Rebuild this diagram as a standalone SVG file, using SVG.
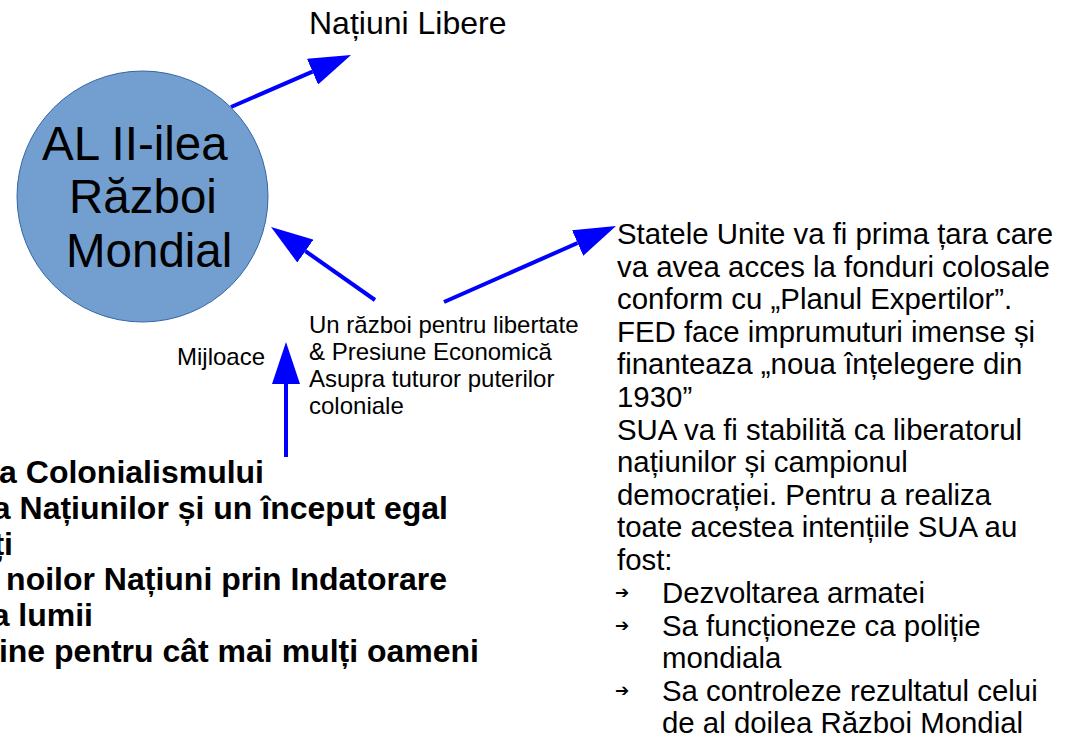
<svg xmlns="http://www.w3.org/2000/svg" width="1073" height="738" viewBox="0 0 1073 738">
<style>
text{font-family:"Liberation Sans",Arial,sans-serif;fill:#000}
.big{font-size:47.5px}
.title{font-size:32px}
.rt{font-size:29.4px}
.sm{font-size:24px}
.bd{font-size:32px;font-weight:bold}
.bul{font-family:"DejaVu Sans",sans-serif;font-size:17px;font-weight:bold}
.conn{stroke:#0000ff;stroke-width:4;fill:none;marker-end:url(#ah)}
</style>
<defs>
<marker id="ah" viewBox="0 0 42 28" refX="0" refY="14" markerWidth="42" markerHeight="28" markerUnits="userSpaceOnUse" orient="auto">
<path d="M0,0 L42,14 L0,28 Z" fill="#0000ff"/>
</marker>
</defs>
<rect width="1073" height="738" fill="#fff"/>
<g id="connectors">
<line class="conn" x1="231" y1="107" x2="312.5" y2="71.7"/>
<line class="conn" x1="375" y1="300" x2="305.4" y2="251.1"/>
<line class="conn" x1="444" y1="302" x2="577.6" y2="243"/>
<line class="conn" x1="286" y1="457" x2="286" y2="384"/>
</g>
<g id="node-razboi">
<circle cx="142.5" cy="196.5" r="125.5" fill="#729fcf" stroke="#3465a4" stroke-width="1"/>
<text class="big" x="42" y="160">AL II-ilea</text>
<text class="big" x="69" y="213">Război</text>
<text class="big" x="66" y="267">Mondial</text>
</g>
<g id="node-natiuni">
<text class="title" x="309" y="34">Națiuni Libere</text>
</g>
<g id="node-mijloace">
<text class="sm" x="177" y="365">Mijloace</text>
</g>
<g id="node-razboi-libertate">
<text class="sm" x="309" y="333">Un război pentru libertate</text>
<text class="sm" x="309" y="360">&amp; Presiune Economică</text>
<text class="sm" x="309" y="387">Asupra tuturor puterilor</text>
<text class="sm" x="309" y="414">coloniale</text>
</g>
<g id="node-sua">
<text class="rt" x="617" y="244">Statele Unite va fi prima țara care</text>
<text class="rt" x="617" y="276.6">va avea acces la fonduri colosale</text>
<text class="rt" x="617" y="309.2">conform cu „Planul Expertilor”.</text>
<text class="rt" x="617" y="341.8">FED face imprumuturi imense și</text>
<text class="rt" x="617" y="374.4">finanteaza „noua înțelegere din</text>
<text class="rt" x="617" y="407">1930”</text>
<text class="rt" x="617" y="439.6">SUA va fi stabilită ca liberatorul</text>
<text class="rt" x="617" y="472.2">națiunilor și campionul</text>
<text class="rt" x="617" y="504.8">democrației. Pentru a realiza</text>
<text class="rt" x="617" y="537.4">toate acestea intențiile SUA au</text>
<text class="rt" x="617" y="570">fost:</text>
<text class="bul" x="615" y="598">➔</text>
<text class="rt" x="662" y="603">Dezvoltarea armatei</text>
<text class="bul" x="615" y="631">➔</text>
<text class="rt" x="662" y="635.5">Sa funcționeze ca poliție</text>
<text class="rt" x="662" y="668">mondiala</text>
<text class="bul" x="615" y="696">➔</text>
<text class="rt" x="662" y="700.5">Sa controleze rezultatul celui</text>
<text class="rt" x="662" y="733">de al doilea Război Mondial</text>
</g>
<g id="node-scopuri">
<text class="bd" x="264" y="483" text-anchor="end">a Colonialismului</text>
<text class="bd" x="448" y="518.8" text-anchor="end">a Națiunilor și un început egal</text>
<text class="bd" x="13" y="554.6" text-anchor="end">ți</text>
<text class="bd" x="447" y="590.4" text-anchor="end">noilor Națiuni prin Indatorare</text>
<text class="bd" x="93" y="626.2" text-anchor="end">a lumii</text>
<text class="bd" x="479" y="662" text-anchor="end">ine pentru cât mai mulți oameni</text>
</g>
</svg>
